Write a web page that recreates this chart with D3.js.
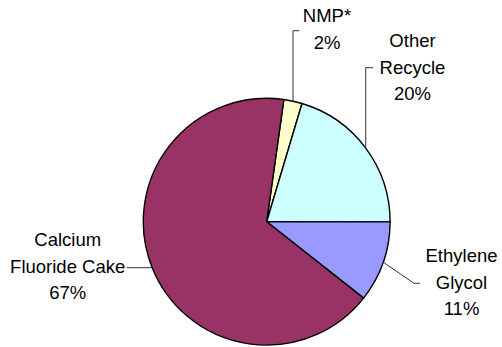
<!DOCTYPE html>
<html>
<head>
<meta charset="utf-8">
<script src="https://cdn.jsdelivr.net/npm/d3@7"></script>
<style>
  body { margin: 0; background: #fff; }
  text { font-family: "Liberation Sans", Arial, sans-serif; font-size: 18.5px; fill: #000; }
</style>
</head>
<body>
<div class="demo"></div>
<script>
const w = 502, h = 347;
const cx = 266.7, cy = 221.7, r = 123.4;

// data
const categories = ['NMP*', 'Other Recycle', 'Ethylene Glycol', 'Calcium Fluoride Cake'];
const values = [2.4, 20.4, 10.6, 66.6];
const labelLines = [['NMP*'], ['Other', 'Recycle'], ['Ethylene', 'Glycol'], ['Calcium', 'Fluoride Cake']];
const colors = ['#FFFFCC', '#CCFFFF', '#9999FF', '#993366'];

// label placement (x = centre of text block, y = first baseline)
const labelPos = [
  {x: 327, y: 21.7, leader: p => [p, [p[0], 30.7], [299.3, 30.7]]},
  {x: 412.5, y: 46.7, leader: p => [p, [p[0], 67.7], [373.3, 67.7]]},
  {x: 461.5, y: 261.7, leader: p => [p, [414, 283.3], [420, 283.3]]},
  {x: 67.7, y: 245.7, leader: p => [p, [126.7, p[1]]]}
];
const lineGap = 26.8;

let svg = d3.select('.demo').append('svg').attr('width', w).attr('height', h);

let pie = d3.pie().sort(null)
  .startAngle(8 * Math.PI / 180)
  .endAngle(8 * Math.PI / 180 + 2 * Math.PI);
let arcs = pie(values);
let arc = d3.arc().innerRadius(0).outerRadius(r);

let g = svg.append('g').attr('transform', 'translate(' + cx + ',' + cy + ')');

g.selectAll('path').data(arcs).enter()
  .append('path')
  .attr('d', arc)
  .attr('fill', (d, i) => colors[i])
  .attr('stroke', '#000')
  .attr('stroke-width', 1.4)
  .attr('stroke-linejoin', 'round');

// leader lines
let line = d3.line();
arcs.forEach(function(d, i) {
  let a = (d.startAngle + d.endAngle) / 2;
  let p = [cx + r * Math.sin(a), cy - r * Math.cos(a)];
  svg.append('path')
    .attr('d', line(labelPos[i].leader(p)))
    .attr('fill', 'none')
    .attr('stroke', '#333')
    .attr('stroke-width', 1);
});

// labels
arcs.forEach(function(d, i) {
  let lines = labelLines[i].concat([Math.round(values[i]) + '%']);
  let t = svg.append('text')
    .attr('text-anchor', 'middle')
    .attr('x', labelPos[i].x)
    .attr('y', labelPos[i].y);
  lines.forEach(function(s, j) {
    t.append('tspan')
      .attr('x', labelPos[i].x)
      .attr('y', labelPos[i].y + j * lineGap)
      .text(s);
  });
});
</script>
</body>
</html>
